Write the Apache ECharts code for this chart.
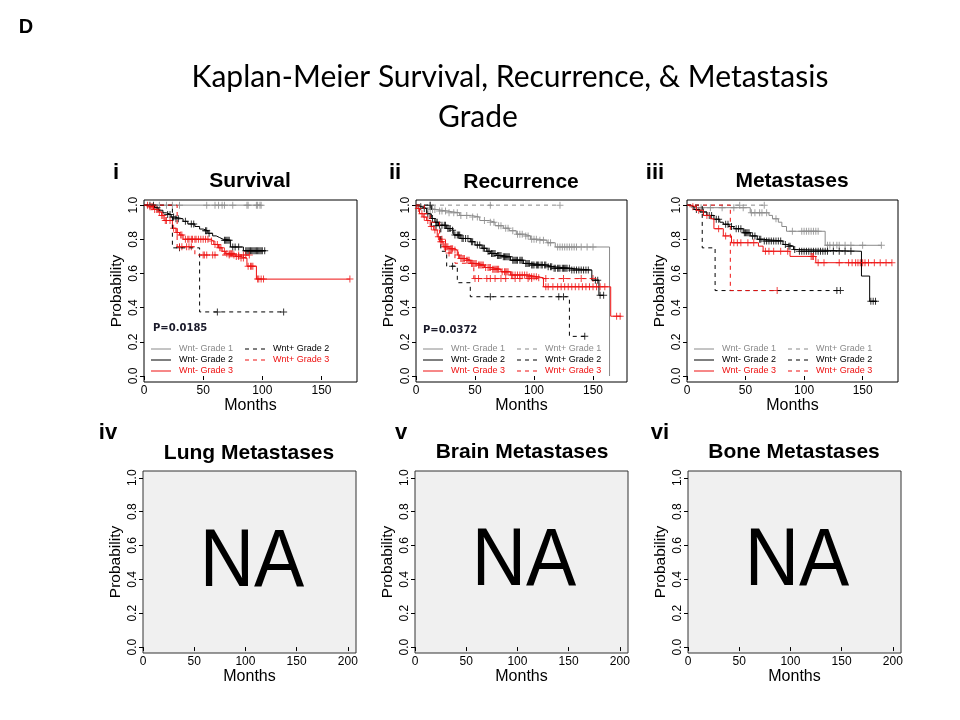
<!DOCTYPE html>
<html>
<head>
<meta charset="utf-8">
<title>Kaplan-Meier Grade</title>
<script src="https://cdn.jsdelivr.net/npm/echarts@6/dist/echarts.min.js"></script>
<style>
  html, body { margin: 0; padding: 0; background: #fff; }
  #chart { width: 960px; height: 720px; }
</style>
</head>
<body>
<div id="chart"></div>
<script>
// tick labels
const probTicks = [0, 0.2, 0.4, 0.6, 0.8, 1.0];
const monthTicksTop = [0, 50, 100, 150];
const monthTicksNA = [0, 50, 100, 150, 200];

// i  Survival : [months, probability] steps, censor times
const survWm1 = [[0, 1], [99, 1]];
const survWm1Cens = [13, 19, 24, 30, 53, 60, 63, 66, 68, 75, 87, 88, 95, 96, 98, 99];
const survWm2 = [[0, 1], [9, 0.985], [12, 0.97], [16, 0.955], [19, 0.945], [23, 0.93], [26, 0.92], [33, 0.905], [37, 0.89], [43, 0.875], [47, 0.86], [50, 0.85], [54, 0.835], [58, 0.82], [61, 0.81], [64, 0.80], [67, 0.795], [73, 0.755], [84, 0.733], [103, 0.733]];
const survWm2Cens = [5, 8, 11, 20, 22, 25, 27, 29, 35, 40, 42, 52, 53, 55, 68, 69, 70, 71, 72, 75, 77, 80, 86, 87, 88, 89, 90, 91, 92, 93, 94, 95, 96, 97, 98, 99, 100, 102];
const survWm3 = [[0, 1], [4, 0.99], [8, 0.975], [12, 0.96], [15, 0.94], [17, 0.91], [24, 0.865], [27, 0.84], [30, 0.825], [33, 0.80], [56, 0.79], [59, 0.77], [63, 0.75], [66, 0.73], [69, 0.715], [77, 0.70], [81, 0.69], [87, 0.643], [95, 0.567], [174, 0.567]];
const survWm3Cens = [3, 5, 6, 7, 9, 11, 13, 15, 16, 18, 19, 22, 25, 28, 31, 32, 35, 37, 38, 40, 41, 43, 44, 46, 48, 50, 52, 54, 57, 60, 62, 64, 65, 68, 70, 72, 73, 74, 75, 78, 80, 82, 84, 88, 90, 91, 92, 96, 97, 99, 101, 174];
const survWp2 = [[0, 1], [24, 0.75], [47, 0.375], [118, 0.375]];
const survWp2Cens = [30, 62, 118];
const survWp3 = [[0, 1], [28, 0.756], [43, 0.708], [89, 0.708]];
const survWp3Cens = [30, 32, 36, 38, 40, 50, 51, 53, 58, 60, 72, 76, 80, 84, 86, 89];

// ii  Recurrence
const recWm1 = [[0, 1], [5, 0.985], [9, 0.975], [17, 0.965], [27, 0.955], [37, 0.94], [47, 0.93], [54, 0.91], [62, 0.90], [67, 0.88], [74, 0.865], [79, 0.85], [85, 0.83], [92, 0.82], [97, 0.80], [104, 0.795], [111, 0.78], [118, 0.755], [164, 0]];
const recWm1Cens = [12, 14, 16, 20, 22, 25, 28, 32, 35, 38, 43, 48, 52, 58, 63, 66, 70, 72, 76, 78, 82, 86, 88, 90, 93, 95, 98, 100, 102, 105, 108, 112, 114, 120, 122, 124, 126, 128, 130, 132, 134, 136, 140, 145, 150];
const recWp1 = [[0, 1], [122, 1]];
const recWp1Cens = [12, 63, 122];
const recWm2 = [[0, 1], [2, 0.99], [5, 0.98], [9, 0.95], [12, 0.922], [16, 0.90], [19, 0.882], [26, 0.863], [30, 0.853], [32, 0.825], [38, 0.805], [46, 0.786], [50, 0.766], [56, 0.747], [60, 0.73], [63, 0.717], [68, 0.705], [73, 0.698], [80, 0.678], [91, 0.659], [97, 0.649], [111, 0.64], [116, 0.63], [131, 0.62], [149, 0.561], [155, 0.472], [159, 0.472]];
const recWm2Cens = [4, 7, 10, 14, 17, 18, 20, 22, 24, 25, 27, 28, 29, 31, 33, 35, 36, 37, 39, 40, 42, 44, 47, 48, 52, 54, 57, 58, 61, 62, 64, 65, 66, 67, 69, 70, 71, 72, 74, 75, 76, 77, 78, 79, 82, 83, 84, 85, 86, 88, 89, 90, 93, 94, 95, 96, 98, 99, 100, 102, 103, 104, 106, 107, 109, 110, 112, 114, 115, 117, 118, 120, 121, 122, 124, 125, 126, 127, 128, 130, 132, 134, 136, 138, 140, 142, 144, 146, 152, 154, 156, 159];
const recWm3 = [[0, 1], [1, 0.98], [3, 0.95], [6, 0.93], [9, 0.91], [12, 0.875], [15, 0.855], [18, 0.815], [20, 0.786], [23, 0.757], [28, 0.745], [32, 0.737], [35, 0.708], [37, 0.688], [42, 0.678], [46, 0.659], [52, 0.649], [58, 0.635], [64, 0.625], [72, 0.61], [80, 0.591], [95, 0.581], [103, 0.575], [108, 0.522], [165, 0.35], [174, 0.35]];
const recWm3Cens = [2, 5, 7, 10, 13, 16, 19, 21, 22, 24, 25, 26, 27, 29, 30, 31, 33, 36, 38, 39, 40, 41, 43, 44, 45, 47, 48, 49, 50, 51, 53, 54, 55, 56, 57, 59, 61, 62, 63, 65, 66, 67, 68, 69, 70, 73, 75, 76, 77, 78, 81, 82, 84, 86, 88, 90, 92, 94, 96, 98, 100, 102, 104, 110, 112, 116, 120, 123, 126, 129, 132, 135, 138, 141, 144, 147, 150, 153, 156, 160, 170, 173];
const recWp2 = [[0, 1], [13, 0.88], [21, 0.73], [26, 0.643], [35, 0.546], [46, 0.464], [130, 0.232], [145, 0.232]];
const recWp2Cens = [12, 17, 31, 63, 121, 125, 143];
const recWp3 = [[0, 1], [7, 0.95], [12, 0.90], [20, 0.80], [25, 0.72], [33, 0.66], [49, 0.57], [150, 0.57]];
const recWp3Cens = [22, 28, 50, 53, 60, 63, 67, 72, 76, 84, 88, 95, 98, 110, 125, 140, 150];

// iii  Metastases
const metWm1 = [[0, 1], [4, 0.985], [54, 0.955], [70, 0.94], [73, 0.92], [78, 0.90], [81, 0.875], [85, 0.847], [118, 0.765], [166, 0.765]];
const metWm1Cens = [12, 20, 30, 40, 48, 55, 58, 62, 64, 68, 76, 90, 98, 100, 102, 104, 106, 108, 110, 112, 120, 122, 125, 128, 130, 135, 140, 150, 166];
const metWp1 = [[0, 1], [66, 1]];
const metWp1Cens = [45, 66];
const metWm2 = [[0, 1], [3, 0.99], [6, 0.975], [11, 0.96], [17, 0.94], [23, 0.917], [28, 0.90], [31, 0.888], [36, 0.875], [40, 0.862], [48, 0.839], [54, 0.82], [60, 0.80], [65, 0.79], [82, 0.77], [85, 0.76], [91, 0.74], [95, 0.73], [149, 0.585], [156, 0.437], [162, 0.437]];
const metWm2Cens = [8, 14, 19, 21, 25, 27, 33, 35, 38, 42, 44, 46, 49, 50, 51, 52, 53, 56, 58, 62, 63, 66, 68, 70, 72, 74, 76, 78, 80, 84, 87, 88, 92, 96, 98, 100, 102, 104, 106, 108, 110, 112, 114, 116, 118, 120, 125, 130, 135, 140, 157, 159, 161];
const metWm3 = [[0, 1], [3, 0.99], [8, 0.97], [14, 0.94], [20, 0.92], [23, 0.862], [31, 0.82], [38, 0.78], [61, 0.76], [65, 0.73], [88, 0.70], [110, 0.663], [175, 0.663]];
const metWm3Cens = [5, 10, 17, 27, 33, 40, 43, 46, 52, 57, 67, 70, 74, 80, 86, 106, 107, 108, 112, 117, 130, 138, 141, 144, 146, 148, 150, 152, 155, 160, 165, 170, 175];
const metWp2 = [[0, 1], [13, 0.75], [24, 0.5], [132, 0.5]];
const metWp2Cens = [128, 131];
const metWp3 = [[0, 1], [37, 0.5], [77, 0.5]];
const metWp3Cens = [77];

const pValues = ['P=0.0185', 'P=0.0372'];
const titles = ['Survival', 'Recurrence', 'Metastases', 'Lung Metastases', 'Brain Metastases', 'Bone Metastases'];
const tags = ['i', 'ii', 'iii', 'iv', 'v', 'vi'];

const GRAY = '#8a8a8a', BLACK = '#000', RED = '#ee1111';
const FONT = "'Liberation Sans', Arial, sans-serif";

const chart = echarts.init(document.getElementById('chart'));

const grids = [
  { left: 144, top: 200, width: 213, height: 182 },
  { left: 416, top: 200, width: 211, height: 182 },
  { left: 687, top: 200, width: 211, height: 182 },
  { left: 143, top: 471, width: 213, height: 182 },
  { left: 415, top: 471, width: 213, height: 182 },
  { left: 688, top: 471, width: 213, height: 182 }
];
const xMax = [180, 178.8, 180.2, 208, 208, 208];

function stepAt(pts, t) {
  let v = pts[0][1];
  for (const p of pts) { if (p[0] <= t) v = p[1]; }
  return v;
}

const plusMark = 'path://M3,0H4V7H3Z M0,3H7V4H0Z';

function km(gi, pts, cens, color, dashed) {
  return [{
    type: 'line', xAxisIndex: gi, yAxisIndex: gi, data: pts, step: 'end',
    symbol: 'none', silent: true,
    lineStyle: { color, width: 1, type: dashed ? [4, 4] : 'solid' }
  }, {
    type: 'scatter', xAxisIndex: gi, yAxisIndex: gi, silent: true,
    data: cens.map(t => [t, stepAt(pts, t)]),
    symbol: plusMark, symbolSize: 7,
    itemStyle: { color }
  }];
}

const series = [].concat(
  km(0, survWm1, survWm1Cens, GRAY, false),
  km(0, survWm2, survWm2Cens, BLACK, false),
  km(0, survWm3, survWm3Cens, RED, false),
  km(0, survWp2, survWp2Cens, BLACK, true),
  km(0, survWp3, survWp3Cens, RED, true),
  km(1, recWm1, recWm1Cens, GRAY, false),
  km(1, recWm2, recWm2Cens, BLACK, false),
  km(1, recWm3, recWm3Cens, RED, false),
  km(1, recWp1, recWp1Cens, GRAY, true),
  km(1, recWp2, recWp2Cens, BLACK, true),
  km(1, recWp3, recWp3Cens, RED, true),
  km(2, metWm1, metWm1Cens, GRAY, false),
  km(2, metWm2, metWm2Cens, BLACK, false),
  km(2, metWm3, metWm3Cens, RED, false),
  km(2, metWp1, metWp1Cens, GRAY, true),
  km(2, metWp2, metWp2Cens, BLACK, true),
  km(2, metWp3, metWp3Cens, RED, true)
);

const xAxes = grids.map((g, i) => {
  const ticks = i < 3 ? monthTicksTop : monthTicksNA;
  return {
    gridIndex: i, type: 'value', min: 0, max: xMax[i],
    axisLine: { show: false },
    axisTick: { show: true, length: 4, customValues: ticks, lineStyle: { color: '#000' } },
    axisLabel: { customValues: ticks, fontSize: 12, margin: 3, color: '#000', fontFamily: FONT },
    splitLine: { show: false },
    name: 'Months', nameLocation: 'middle', nameGap: 15,
    nameTextStyle: { fontSize: 16, color: '#000', fontFamily: FONT }
  };
});

const yAxes = grids.map((g, i) => ({
  gridIndex: i, type: 'value', min: -0.035, max: i < 3 ? 1.03 : 1.04,
  axisLine: { show: false },
  axisTick: { show: true, length: 4, customValues: probTicks, lineStyle: { color: '#000' } },
  axisLabel: {
    customValues: probTicks, rotate: 90, fontSize: 12, margin: 4, color: '#000', fontFamily: FONT,
    formatter: v => v.toFixed(1)
  },
  splitLine: { show: false },
  name: 'Probability', nameLocation: 'middle', nameGap: 19,
  nameTextStyle: { fontSize: 15.5, color: '#000', fontFamily: FONT }
}));

const gridOpts = grids.map((g, i) => Object.assign({
  show: true, borderColor: i < 3 ? '#000' : '#333', borderWidth: 1,
  backgroundColor: i < 3 ? '#fff' : '#f0f0f0'
}, g));

// text and legends
const graphic = [];
function txt(text, x, y, size, opts, extra) {
  graphic.push(Object.assign({
    type: 'text', x, y, silent: true,
    style: Object.assign({
      text, fontSize: size, fontFamily: FONT, fill: '#000',
      align: 'center', verticalAlign: 'middle'
    }, opts || {})
  }, extra || {}));
}

txt('D', 26, 27, 20, { fontWeight: 'bold' });
txt('Kaplan-Meier Survival, Recurrence, & Metastasis', 510, 77, 30, { fontFamily: 'Lato, sans-serif' });
txt('Grade', 438, 117, 30, { fontFamily: 'Lato, sans-serif', align: 'left' });

const tagPos = [[116, 173], [395, 173], [655, 173], [108, 433], [401, 433], [660, 433]];
tags.forEach((t, i) => txt(t, tagPos[i][0], tagPos[i][1], 22, { fontWeight: 'bold' }));
const titlePos = [[250, 181], [521, 182], [792, 181], [249, 453], [522, 452], [794, 452]];
titles.forEach((t, i) => txt(t, titlePos[i][0], titlePos[i][1], 21, { fontWeight: 'bold' }));

txt(pValues[0], 153, 328, 10, { fontWeight: 'bold', fontFamily: "'DejaVu Sans', sans-serif", align: 'left', fill: '#1a1a2a' });
txt(pValues[1], 423, 330, 10, { fontWeight: 'bold', fontFamily: "'DejaVu Sans', sans-serif", align: 'left', fill: '#1a1a2a' });

const legendRows = [349, 360, 371];
const legendCols = [[7, 27, 35], [101, 121, 129]];
function legend(gi, items) {
  const x0 = grids[gi].left;
  items.forEach(([label, color, dashed, col, row]) => {
    const c = legendCols[col], y = legendRows[row];
    graphic.push({
      type: 'line', silent: true,
      shape: { x1: x0 + c[0], y1: y, x2: x0 + c[1], y2: y },
      style: { stroke: color, lineWidth: 1, lineDash: dashed ? [4, 4] : null }
    });
    txt(label, x0 + c[2], y, 9, { align: 'left', fill: color });
  });
}
legend(0, [
  ['Wnt- Grade 1', GRAY, false, 0, 0], ['Wnt- Grade 2', BLACK, false, 0, 1], ['Wnt- Grade 3', RED, false, 0, 2],
  ['Wnt+ Grade 2', BLACK, true, 1, 0], ['Wnt+ Grade 3', RED, true, 1, 1]
]);
[1, 2].forEach(gi => legend(gi, [
  ['Wnt- Grade 1', GRAY, false, 0, 0], ['Wnt- Grade 2', BLACK, false, 0, 1], ['Wnt- Grade 3', RED, false, 0, 2],
  ['Wnt+ Grade 1', GRAY, true, 1, 0], ['Wnt+ Grade 2', BLACK, true, 1, 1], ['Wnt+ Grade 3', RED, true, 1, 2]
]));

// NA panels
const naPos = [[252, 564], [524, 563], [797, 563]];
naPos.forEach(p => txt('NA', p[0], p[1], 81, { fontFamily: FONT }, { scaleX: 0.93 }));

chart.setOption({
  backgroundColor: '#fff',
  animation: false,
  grid: gridOpts,
  xAxis: xAxes,
  yAxis: yAxes,
  series,
  graphic
});
</script>
</body>
</html>
